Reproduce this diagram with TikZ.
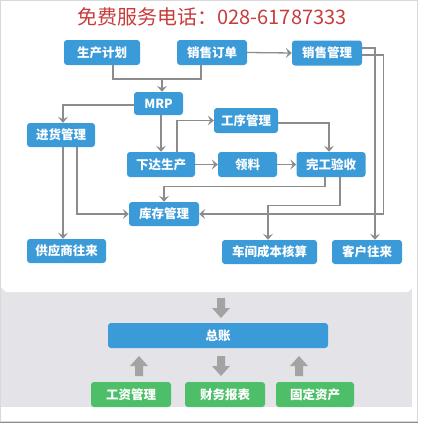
\documentclass[tikz,border=0pt]{standalone}
\usepackage{fontspec}
\setmainfont{Noto Sans CJK SC}
\usetikzlibrary{arrows.meta,calc}
\definecolor{boxblue}{HTML}{3B9AD8}
\definecolor{boxgreen}{HTML}{4DBF68}
\definecolor{linegray}{HTML}{8C8C8C}
\definecolor{bggray}{HTML}{E4E3E7}
\definecolor{bararrow}{HTML}{A3A3A3}
\definecolor{titlered}{HTML}{C83C3C}
\tikzset{
  bluebox/.style={fill=boxblue, rounded corners=3pt, text=white, font=\bfseries\fontsize{12.5}{14}\selectfont, minimum height=25pt, inner sep=0pt},
  greenbox/.style={fill=boxgreen, rounded corners=3pt, text=white, font=\bfseries\fontsize{12.5}{14}\selectfont, minimum height=25pt, minimum width=80pt, inner sep=0pt},
  conn/.style={draw=linegray, line width=1.3pt},
  arr/.style={conn, -{Stealth[length=6pt,width=10pt,inset=2.5pt]}},
  pics/barrow/.style={code={\fill[bararrow] (-4,-10) -- (4,-10) -- (4,0) -- (9,0) -- (0,10) -- (-9,0) -- (-4,0) -- cycle;}}
}
\begin{document}
\begin{tikzpicture}[x=1pt,y=-1pt]
\useasboundingbox (0,0) rectangle (423,423);
% frames
\fill[white] (0,0) rectangle (423,423);
\fill[bggray] (0,288) rectangle (412,407);
\fill[white, rounded corners=6pt] (2,2) rectangle (412,292);
\draw[black!15, line width=0.8pt] (0.5,0.5) rectangle (417.5,421);
\draw[black!45, line width=1pt] (0,422) -- (418,422);
% title
\node[text=titlered, font=\fontsize{20}{22}\selectfont] (title) at (212,17) {免费服务电话：028-61787333};
% boxes
\node[bluebox, minimum width=76pt] (plan) at (102,52.5) {生产计划};
\node[bluebox, minimum width=70pt] (order) at (212,52.5) {销售订单};
\node[bluebox, minimum width=70pt] (sales) at (327,53) {销售管理};
\node[bluebox, minimum width=49pt, minimum height=23pt] (mrp) at (158.5,103.5) {MRP};
\node[bluebox, minimum width=68pt, minimum height=24pt] (purch) at (61,135) {进货管理};
\node[bluebox, minimum width=64pt] (proc) at (246,120.5) {工序管理};
\node[bluebox, minimum width=68pt] (issue) at (161,164.5) {下达生产};
\node[bluebox, minimum width=59pt] (mat) at (247.5,164.5) {领料};
\node[bluebox, minimum width=69pt] (done) at (331,164.5) {完工验收};
\node[bluebox, minimum width=70pt, minimum height=24pt] (stock) at (164,214) {库存管理};
\node[bluebox, minimum width=79pt, minimum height=24pt] (supp) at (66.5,251) {供应商往来};
\node[bluebox, minimum width=95pt, minimum height=24pt] (cost) at (269.5,252) {车间成本核算};
\node[bluebox, minimum width=70pt, minimum height=24pt] (cust) at (367,252) {客户往来};
\node[bluebox, minimum width=220pt] (ledger) at (218,335.5) {总账};
\node[greenbox] (wage) at (131,394.5) {工资管理};
\node[greenbox] (report) at (225,394.5) {财务报表};
\node[greenbox, minimum width=78pt] (asset) at (315,394.5) {固定资产};
% connectors
\coordinate (j1) at (162,79);
\draw[conn] ([xshift=11]plan.south) |- (j1) -| ([xshift=-11]order.south);
\draw[arr] (j1) -- (j1 |- mrp.north);
\draw[arr] (order.east) -- (sales.west);
\draw[arr] ([yshift=-1.5]mrp.west) -| ([xshift=2]purch.north);
\draw[arr] (mrp.south -| issue.north) -- (issue.north);
\draw[arr] ([xshift=16]issue.north) |- (proc.west);
\draw[arr] ([yshift=-2.5]proc.east) -| ([xshift=-2]done.north);
\draw[arr] (issue.east) -- (mat.west);
\draw[arr] (mat.east) -- (done.west);
\draw[arr] ([xshift=-6]done.south) -- ++(0,9) -| (stock.north);
\draw[arr] ([xshift=9]done.south) -- ++(0,28) -| ([xshift=-1.5]cost.north);
\draw[arr] ([xshift=2]purch.south) -- ([xshift=2]purch.south |- supp.north);
\draw[arr] ([xshift=16]purch.south) |- (stock.west);
\draw[arr] ([yshift=-2]sales.east) -- ++(21,0) |- (stock.east);
\draw[arr] ([yshift=5]sales.east) -| ([xshift=8]cust.north);
% block arrows
\path (221,308) pic {barrow};
\path (139,366) pic[rotate=180] {barrow};
\path (221,366) pic {barrow};
\path (299,366) pic[rotate=180] {barrow};
\end{tikzpicture}
\end{document}
